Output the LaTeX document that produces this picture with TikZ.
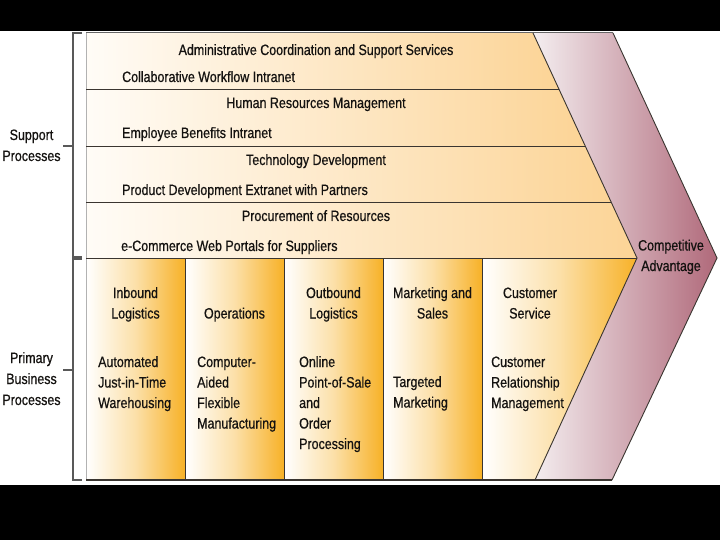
\documentclass[tikz,border=0pt]{standalone}
\usepackage{fontspec}
\setmainfont{Liberation Sans}[FakeStretch=0.83,FakeBold=0.6]
\definecolor{supL}{HTML}{FFFCF7}
\definecolor{supR}{HTML}{FCD496}
\definecolor{priR}{HTML}{F7B127}
\definecolor{caL}{HTML}{F4EEF0}
\definecolor{caR}{HTML}{B0697A}
\definecolor{ink}{HTML}{141210}
\definecolor{rule}{HTML}{3A3530}
\begin{document}
\begin{tikzpicture}[x=1pt,y=-1pt,
  txt/.style={inner sep=0pt, font=\fontsize{15}{20.5}\selectfont, text=ink},
  title/.style={txt, anchor=base, align=center},
  item/.style={txt, anchor=base west, align=left},
  side/.style={txt, anchor=base, align=center, font=\fontsize{15}{21}\selectfont},
  sep/.style={draw=rule, line width=0.9pt},
  supshade/.style={left color=supL, right color=supR},
  prishade/.style={left color=white, right color=priR, middle color=priR!40!white},
  brace/.style={draw=gray!70!black, line width=1.1pt}]
\useasboundingbox (0,0) rectangle (720,540);
\fill[white] (0,0) rectangle (720,540);
\fill[black] (0,0) rectangle (720,31);
\fill[black] (0,485) rectangle (720,540);

% competitive advantage band
\shade[left color=caL, right color=caR] (533,33) -- (613,33) -- (717,258) -- (612,480) -- (535,480) -- (637,258) -- cycle;

% support rows
\shade[supshade] (86,33) -- (533,33) -- (559,89) -- (86,89) -- cycle;
\shade[supshade] (86,89) -- (559,89) -- (585.2,146) -- (86,146) -- cycle;
\shade[supshade] (86,146) -- (585.2,146) -- (611.1,202) -- (86,202) -- cycle;
\shade[supshade] (86,202) -- (611.1,202) -- (637,258) -- (86,258) -- cycle;

% primary columns
\foreach \a/\b in {86/185,185/284,284/383,383/482}
  \shade[prishade] (\a,258) rectangle (\b,480);
\shade[prishade] (482,258) -- (637,258) -- (535,480) -- (482,480) -- cycle;

% rules
\draw[gray!60, line width=0.8pt] (86,33) -- (86,480);
\draw[gray!80!black, line width=1pt] (86,33) -- (613,33);
\draw[sep] (86,89) -- (559,89);
\draw[sep] (86,146) -- (585.2,146);
\draw[sep] (86,202) -- (611.1,202);
\draw[sep] (86,258) -- (637,258);
\foreach \x in {185,284,383,482}
  \draw[sep] (\x,258) -- (\x,480);
\draw[sep] (533,33) -- (637,258) -- (535,480);
\draw[sep] (613,33) -- (717,258) -- (612,480);
\draw[rule, line width=2pt] (86,480) -- (612,480);

% brackets
\draw[brace] (82,33) -- (73,33) -- (73,257) -- (82,257);
\draw[brace] (82,259) -- (73,259) -- (73,480) -- (82,480);
\draw[brace] (63,146) -- (73,146);
\draw[brace] (63,370) -- (73,370);

% support texts
\node[title] (admin) at (316,55) {Administrative Coordination and Support Services};
\node[item] (collab) at (122,82) {Collaborative Workflow Intranet};
\node[title] (hrm) at (316,108) {Human Resources Management};
\node[item] (ebi) at (122,138) {Employee Benefits Intranet};
\node[title] (tech) at (316,165) {Technology Development};
\node[item] (pde) at (122,195) {Product Development Extranet with Partners};
\node[title] (proc) at (316,221) {Procurement of Resources};
\node[item] (ecom) at (121,251) {e-Commerce Web Portals for Suppliers};

% primary headers (anchored at the baseline of the last line)
\node[title] (inb) at (135.5,318.5) {Inbound\\Logistics};
\node[title] (ops) at (234.5,318.5) {Operations};
\node[title] (outb) at (333.5,318.5) {Outbound\\Logistics};
\node[title] (mkt) at (432.5,318.5) {Marketing and\\Sales};
\node[title] (cust) at (530,318.5) {Customer\\Service};

% primary bodies (anchored at the baseline of the last line)
\node[item] (inbT) at (98,408) {Automated\\Just-in-Time\\Warehousing};
\node[item] (opsT) at (197,428.5) {Computer-\\Aided\\Flexible\\Manufacturing};
\node[item] (outbT) at (299,449) {Online\\Point-of-Sale\\and\\Order\\Processing};
\node[item] (mktT) at (393,407.5) {Targeted\\Marketing};
\node[item] (custT) at (491,408) {Customer\\Relationship\\Management};

% side labels
\node[side] (supp) at (31.5,161) {Support\\Processes};
\node[side] (prim) at (31.5,405) {Primary\\Business\\Processes};
\node[title] (ca) at (671,271) {Competitive\\Advantage};
\end{tikzpicture}
\end{document}
